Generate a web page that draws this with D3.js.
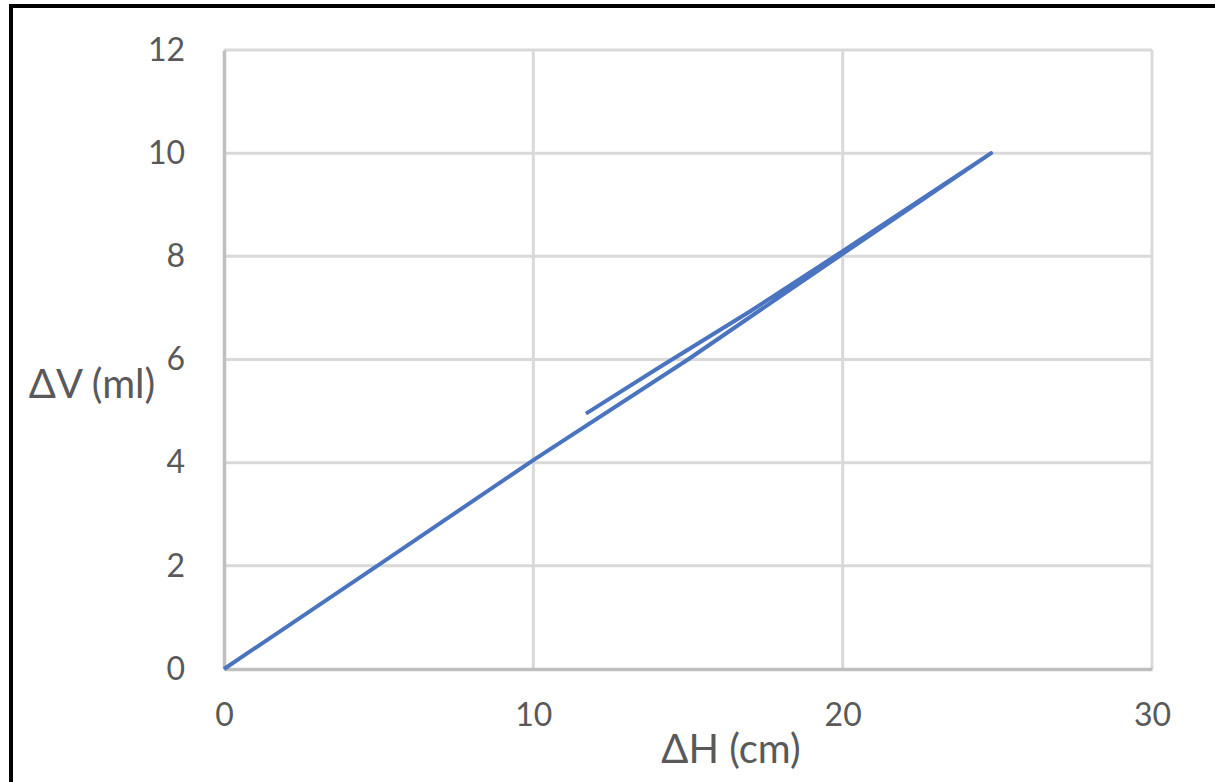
<!DOCTYPE html>
<html>
<head>
<meta charset="utf-8">
<script src="https://cdn.jsdelivr.net/npm/d3@7"></script>
<style>
  html, body { margin: 0; padding: 0; background: #fff; }
  svg { display: block; }
  text { font-family: Lato, "Open Sans", sans-serif; fill: #595959; }
</style>
</head>
<body>
<svg id="chart" width="1215" height="782"></svg>
<script>
// Measured head change ΔH (cm) and volume change ΔV (ml): loading run up to 25 cm, then unloading back
const deltaH = [0, 5, 10, 15, 20, 24.8, 20, 17, 14, 11.7];
const deltaV = [0, 2.02, 4.05, 6.0, 8.05, 10.0, 8.1, 6.93, 5.82, 4.95];

const xTicks = [0, 10, 20, 30];
const yTicks = [0, 2, 4, 6, 8, 10, 12];
const xTitle = "ΔH (cm)";
const yTitle = "ΔV (ml)";

const svg = d3.select("#chart");
const W = 1215, H = 782;
const plot = { left: 224, right: 1152, top: 50, bottom: 669 };

const x = d3.scaleLinear().domain([0, 30]).range([plot.left, plot.right]);
const y = d3.scaleLinear().domain([0, 12]).range([plot.bottom, plot.top]);

// outer frame (black on top and left edges)
svg.append("path")
  .attr("d", `M11,${H} L11,6 L${W},6`)
  .attr("fill", "none")
  .attr("stroke", "#000")
  .attr("stroke-width", 4);

// vertical gridlines
svg.append("g")
  .selectAll("line")
  .data(xTicks.filter(t => t !== 0))
  .join("line")
  .attr("x1", d => x(d)).attr("x2", d => x(d))
  .attr("y1", plot.top).attr("y2", plot.bottom)
  .attr("stroke", "#d9d9d9").attr("stroke-width", 3);

// horizontal gridlines
svg.append("g")
  .selectAll("line")
  .data(yTicks.filter(t => t !== 0))
  .join("line")
  .attr("x1", plot.left).attr("x2", plot.right)
  .attr("y1", d => y(d)).attr("y2", d => y(d))
  .attr("stroke", "#d9d9d9").attr("stroke-width", 3);

// axes built from the scales; tick marks hidden, labels kept
const xAxis = svg.append("g")
  .attr("transform", `translate(0,${plot.bottom})`)
  .call(d3.axisBottom(x).tickValues(xTicks).tickSize(0).tickPadding(46).tickFormat(d3.format("d")));
const yAxis = svg.append("g")
  .attr("transform", `translate(${plot.left},0)`)
  .call(d3.axisLeft(y).tickValues(yTicks).tickSize(0).tickPadding(39).tickFormat(d3.format("d")));

[xAxis, yAxis].forEach(g => {
  g.select(".domain").attr("stroke", "#bfbfbf").attr("stroke-width", 3.5);
  g.selectAll("text")
    .attr("fill", "#4d4d4d")
    .style("font-family", "Lato, 'Open Sans', sans-serif")
    .style("font-size", "32px");
});
xAxis.selectAll("text").attr("dy", "0.35em");

// data line
const line = d3.line()
  .x(i => x(deltaH[i]))
  .y(i => y(deltaV[i]));

svg.append("path")
  .datum(d3.range(deltaH.length))
  .attr("d", line)
  .attr("fill", "none")
  .attr("stroke", "#4a74bf")
  .attr("stroke-width", 4)
  .attr("stroke-linejoin", "round");

// axis titles
svg.append("text")
  .attr("x", 731).attr("y", 763)
  .attr("text-anchor", "middle")
  .attr("fill", "#4d4d4d")
  .style("font-size", "40px")
  .text(xTitle);

svg.append("text")
  .attr("x", 92).attr("y", 398)
  .attr("text-anchor", "middle")
  .attr("fill", "#4d4d4d")
  .style("font-size", "40px")
  .text(yTitle);
</script>
</body>
</html>
